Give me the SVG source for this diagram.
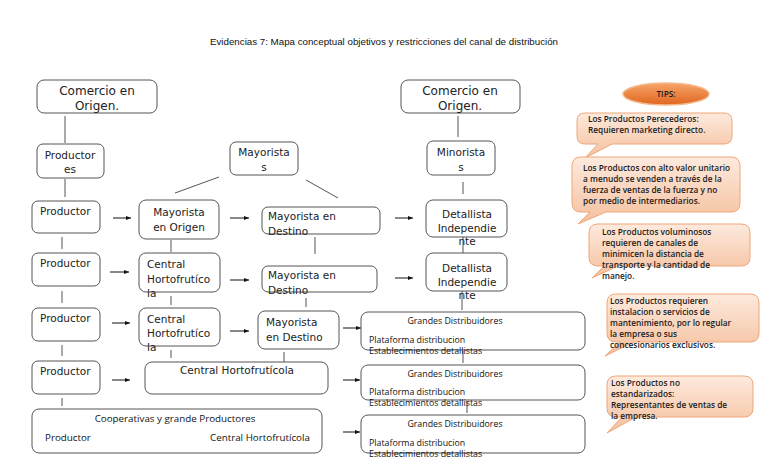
<svg xmlns="http://www.w3.org/2000/svg" width="768" height="466" viewBox="0 0 768 466">
<defs>
<marker id="ah" markerWidth="6" markerHeight="6" refX="5" refY="3" orient="auto" markerUnits="userSpaceOnUse">
<path d="M0,1 L5,3 L0,5 Z" fill="#111"/>
</marker>
<linearGradient id="peach" x1="0" y1="0" x2="0" y2="1">
<stop offset="0" stop-color="#fdeade"/>
<stop offset="1" stop-color="#f5bf9c"/>
</linearGradient>
<linearGradient id="orange" x1="0" y1="0" x2="0" y2="1">
<stop offset="0" stop-color="#f7a56a"/>
<stop offset="1" stop-color="#e0661f"/>
</linearGradient>
</defs>
<style>
.box{fill:#fff;stroke:#555;stroke-width:1}
.t{font-family:"DejaVu Sans",Verdana,sans-serif;font-size:10.5px;fill:#222}
.tb{font-family:"DejaVu Sans",Verdana,sans-serif;font-size:12px;fill:#222}
.s{font-family:"Open Sans","Liberation Sans",sans-serif;font-size:8.8px;fill:#111}
.c{font-family:"Open Sans","Liberation Sans",sans-serif;font-size:9.8px;fill:#111}
.tip{font-family:"Open Sans","Liberation Sans",sans-serif;font-size:8.3px;fill:#1a1a1a;font-weight:600}
.call{fill:url(#peach);stroke:#f0a678;stroke-width:1}
.ln{stroke:#555;stroke-width:1;fill:none}
.ar{stroke:#111;stroke-width:1;fill:none;marker-end:url(#ah)}
.m{text-anchor:middle}
</style>
<rect width="768" height="466" fill="#fff"/>
<text x="384" y="45" class="m" font-family="Liberation Sans, Arial, sans-serif" font-size="9" fill="#111" textLength="348" lengthAdjust="spacingAndGlyphs">Evidencias 7: Mapa conceptual objetivos y restricciones del canal de distribución</text>

<g id="connectors">
<line class="ln" x1="65" y1="116" x2="65" y2="143"/>
<line class="ln" x1="65" y1="179" x2="65" y2="197"/>
<line class="ln" x1="62" y1="237" x2="62" y2="249"/>
<line class="ln" x1="62" y1="291" x2="62" y2="303"/>
<line class="ln" x1="62" y1="345" x2="62" y2="356"/>
<line class="ln" x1="62" y1="398" x2="62" y2="406"/>
<line class="ln" x1="219" y1="177" x2="175" y2="193"/>
<line class="ln" x1="306" y1="180" x2="338" y2="198"/>
<line class="ln" x1="171" y1="240" x2="171" y2="252"/>
<line class="ln" x1="171" y1="296" x2="171" y2="305"/>
<line class="ln" x1="171" y1="350" x2="171" y2="358"/>
<line class="ln" x1="315" y1="237" x2="315" y2="254"/>
<line class="ln" x1="306" y1="298" x2="306" y2="307"/>
<line class="ln" x1="284" y1="352" x2="284" y2="362"/>
<line class="ln" x1="458" y1="116" x2="458" y2="137"/>
<line class="ln" x1="463" y1="182" x2="463" y2="194"/>
<line class="ln" x1="463" y1="237" x2="463" y2="253"/>
<line class="ln" x1="462" y1="291" x2="462" y2="310"/>
<line class="ln" x1="463" y1="351" x2="463" y2="363"/>
<line class="ln" x1="467" y1="401" x2="467" y2="413"/>
<line class="ar" x1="113" y1="218" x2="131" y2="218"/>
<line class="ar" x1="110" y1="272" x2="129" y2="272"/>
<line class="ar" x1="112" y1="323" x2="130" y2="323"/>
<line class="ar" x1="112" y1="380" x2="130" y2="380"/>
<line class="ar" x1="230" y1="218" x2="249" y2="218"/>
<line class="ar" x1="230" y1="280" x2="249" y2="280"/>
<line class="ar" x1="230" y1="331" x2="249" y2="331"/>
<line class="ar" x1="395" y1="218" x2="413" y2="218"/>
<line class="ar" x1="395" y1="278" x2="413" y2="278"/>
<line class="ar" x1="343" y1="328" x2="361" y2="328"/>
<line class="ar" x1="343" y1="380" x2="360" y2="380"/>
<line class="ar" x1="343" y1="432" x2="360" y2="432"/>
</g>

<g id="comercio-origen-1">
<rect class="box" x="37" y="80" width="120" height="33" rx="7"/>
<text class="tb m" x="97" y="95">Comercio en</text>
<text class="tb m" x="97" y="110">Origen.</text>
</g>
<g id="productores">
<rect class="box" x="37" y="144" width="67" height="34" rx="6"/>
<text class="t m" x="70" y="159">Productor</text>
<text class="t m" x="70" y="173">es</text>
</g>
<g id="productor-1">
<rect class="box" x="32" y="201" width="68" height="32" rx="6"/>
<text class="t" x="40" y="215">Productor</text>
</g>
<g id="productor-2">
<rect class="box" x="32" y="253" width="68" height="33" rx="6"/>
<text class="t" x="40" y="267">Productor</text>
</g>
<g id="productor-3">
<rect class="box" x="32" y="308" width="68" height="33" rx="6"/>
<text class="t" x="40" y="322">Productor</text>
</g>
<g id="productor-4">
<rect class="box" x="32" y="361" width="68" height="33" rx="6"/>
<text class="t" x="40" y="375">Productor</text>
</g>
<g id="cooperativas">
<rect class="box" x="32" y="409" width="290" height="44" rx="7"/>
<text class="c m" x="175" y="422">Cooperativas y grande Productores</text>
<text class="c" x="45" y="441">Productor</text>
<text class="c" x="210" y="441">Central Hortofrutícola</text>
</g>

<g id="mayoristas">
<rect class="box" x="230" y="142" width="68" height="33" rx="6"/>
<text class="t m" x="264" y="156">Mayorista</text>
<text class="t m" x="264" y="171">s</text>
</g>
<g id="mayorista-origen">
<rect class="box" x="139" y="200" width="80" height="39" rx="7"/>
<text class="t m" x="179" y="216">Mayorista</text>
<text class="t m" x="179" y="231">en Origen</text>
</g>
<g id="central-1">
<rect class="box" x="139" y="253" width="81" height="39" rx="7"/>
<text class="t" x="147" y="268">Central</text>
<text class="t" x="147" y="283">Hortofrutíco</text>
<text class="t" x="147" y="297">la</text>
</g>
<g id="central-2">
<rect class="box" x="139" y="308" width="81" height="38" rx="7"/>
<text class="t" x="147" y="323">Central</text>
<text class="t" x="147" y="337">Hortofrutíco</text>
<text class="t" x="147" y="351">la</text>
</g>
<g id="central-3">
<rect class="box" x="145" y="362" width="183" height="32" rx="7"/>
<text class="t m" x="237" y="374">Central Hortofrutícola</text>
</g>

<g id="mayorista-destino-1">
<rect class="box" x="262" y="207" width="118" height="27" rx="6"/>
<text class="t" x="268" y="220">Mayorista en</text>
<text class="t" x="268" y="235">Destino</text>
</g>
<g id="mayorista-destino-2">
<rect class="box" x="262" y="266" width="115" height="26" rx="6"/>
<text class="t" x="268" y="279">Mayorista en</text>
<text class="t" x="268" y="294">Destino</text>
</g>
<g id="mayorista-destino-3">
<rect class="box" x="258" y="311" width="81" height="38" rx="7"/>
<text class="t" x="266" y="326">Mayorista</text>
<text class="t" x="266" y="341">en Destino</text>
</g>

<g id="comercio-origen-2">
<rect class="box" x="401" y="80" width="119" height="33" rx="7"/>
<text class="tb m" x="460" y="95">Comercio en</text>
<text class="tb m" x="460" y="110">Origen.</text>
</g>
<g id="minoristas">
<rect class="box" x="427" y="141" width="68" height="34" rx="6"/>
<text class="t m" x="461" y="156">Minorista</text>
<text class="t m" x="461" y="171">s</text>
</g>
<g id="detallista-1">
<rect class="box" x="426" y="200" width="81" height="37" rx="7"/>
<text class="t m" x="467" y="218">Detallista</text>
<text class="t m" x="467" y="232">Independie</text>
<text class="t m" x="467" y="245">nte</text>
</g>
<g id="detallista-2">
<rect class="box" x="426" y="253" width="81" height="38" rx="7"/>
<text class="t m" x="467" y="272">Detallista</text>
<text class="t m" x="467" y="286">Independie</text>
<text class="t m" x="467" y="299">nte</text>
</g>

<g id="grandes-1">
<rect class="box" x="361" y="312" width="224" height="38" rx="7"/>
<text class="s m" x="455" y="324">Grandes Distribuidores</text>
<text class="s" x="369" y="343">Plataforma distribucion</text>
<text class="s" x="369" y="354">Establecimientos detallistas</text>
</g>
<g id="grandes-2">
<rect class="box" x="361" y="365" width="224" height="35" rx="7"/>
<text class="s m" x="455" y="377">Grandes Distribuidores</text>
<text class="s" x="369" y="395">Plataforma distribucion</text>
<text class="s" x="369" y="406">Establecimientos detallistas</text>
</g>
<g id="grandes-3">
<rect class="box" x="361" y="415" width="224" height="38" rx="7"/>
<text class="s m" x="455" y="427">Grandes Distribuidores</text>
<text class="s" x="369" y="446">Plataforma distribucion</text>
<text class="s" x="369" y="457">Establecimientos detallistas</text>
</g>

<g id="tips">
<ellipse cx="666" cy="94" rx="43" ry="11" fill="url(#orange)" stroke="#f3b98f" stroke-width="1.5"/>
<text class="tip m" x="666" y="97" font-weight="700">TIPS:</text>
</g>
<g id="tip-1">
<path class="call" d="M585,113 H724 Q732,113 732,121 V136 Q732,144 724,144 H612 L585,158 L598,144 H585 Q577,144 577,136 V121 Q577,113 585,113 Z"/>
<text class="tip" x="588" y="122">Los Productos Perecederos:</text>
<text class="tip" x="588" y="133">Requieren marketing directo.</text>
</g>
<g id="tip-2">
<path class="call" d="M581,157 H731 Q740,157 740,166 V203 Q740,212 731,212 H606 L578,224 L590,212 H581 Q572,212 572,203 V166 Q572,157 581,157 Z"/>
<text class="tip" x="583" y="171">Los Productos con alto valor unitario</text>
<text class="tip" x="583" y="182">a menudo se venden a través de la</text>
<text class="tip" x="583" y="193">fuerza de ventas de la fuerza y no</text>
<text class="tip" x="583" y="204">por medio de intermediarios.</text>
</g>
<g id="tip-3">
<path class="call" d="M598,224 H741 Q750,224 750,233 V257 Q750,266 741,266 H618 L592,278 L604,266 H598 Q589,266 589,257 V233 Q589,224 598,224 Z"/>
<text class="tip" x="602" y="235">Los Productos voluminosos</text>
<text class="tip" x="602" y="246">requieren de canales de</text>
<text class="tip" x="602" y="257">minimicen la distancia de</text>
<text class="tip" x="602" y="268">transporte y la cantidad de</text>
<text class="tip" x="602" y="279">manejo.</text>
</g>
<g id="tip-4">
<path class="call" d="M616,294 H750 Q759,294 759,303 V333 Q759,342 750,342 H634 L605,356 L620,342 H616 Q607,342 607,333 V303 Q607,294 616,294 Z"/>
<text class="tip" x="610" y="304">Los Productos requieren</text>
<text class="tip" x="610" y="315">instalacion o servicios de</text>
<text class="tip" x="610" y="326">mantenimiento, por lo regular</text>
<text class="tip" x="610" y="337">la empresa o sus</text>
<text class="tip" x="610" y="348">concesionarios exclusivos.</text>
</g>
<g id="tip-5">
<path class="call" d="M616,376 H744 Q753,376 753,385 V408 Q753,417 744,417 H636 L607,433 L622,417 H616 Q607,417 607,408 V385 Q607,376 616,376 Z"/>
<text class="tip" x="611" y="386">Los Productos no</text>
<text class="tip" x="611" y="397">estandarizados:</text>
<text class="tip" x="611" y="408">Representantes de ventas de</text>
<text class="tip" x="611" y="419">la empresa.</text>
</g>
</svg>
